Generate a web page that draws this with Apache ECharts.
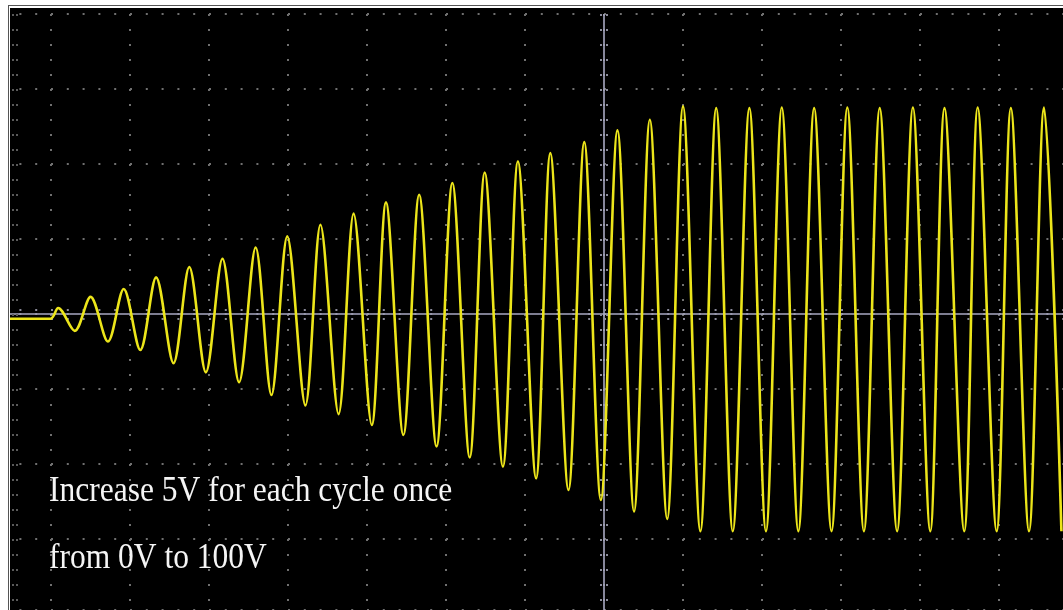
<!DOCTYPE html>
<html>
<head>
<meta charset="utf-8">
<script src="https://cdn.jsdelivr.net/npm/echarts@6/dist/echarts.min.js"></script>
<style>
html,body{margin:0;padding:0;background:#fff;}
#chart{width:1063px;height:610px;}
</style>
</head>
<body>
<div id="chart"></div>
<script>
// Time in screen divisions (0 = centre graticule line), voltage in volts.
const flatTimes = [-8, -7.01];
const flatVolts = [0, 0];
const peakTimes = [-6.91,-6.50,-6.08,-5.67,-5.25,-4.83,-4.41,-4.01,-3.59,-3.17,-2.76,-2.34,-1.92,-1.51,-1.09,-0.68,-0.25,0.17,0.58,1.00,1.42,1.84,2.25,2.66,3.08,3.49,3.91,4.31,4.73,5.15,5.57];
const peakVolts = [5.1,10.3,14.0,19.5,24.4,28.3,33.6,38.8,44.3,49.5,54.8,58.4,63.9,68.9,74.1,78.0,83.2,88.7,93.7,100,99.2,99.2,99.5,99.2,99.5,99.2,99.5,99.2,99.5,99.2,99.5];
const troughTimes = [-6.70,-6.28,-5.87,-5.45,-5.04,-4.62,-4.21,-3.78,-3.36,-2.94,-2.54,-2.12,-1.70,-1.28,-0.86,-0.45,-0.04,0.38,0.80,1.22,1.63,2.05,2.46,2.88,3.29,3.71,4.13,4.56,4.97,5.38,5.79];
const troughVolts = [-5.7,-10.7,-14.7,-20.9,-25.2,-29.9,-35.9,-40.8,-44.9,-50.0,-54.7,-60.1,-65.3,-69.6,-75.1,-80.6,-85.3,-90.7,-94.2,-100,-100,-100,-100,-100,-100,-100,-100,-100,-100,-100,-100];
const noteLines = ["Increase 5V for each cycle once", "from 0V to 100V"];
// visible screen window (divisions) and voltage window
const timeWindow = [-7.646, 5.810];
const divWindow = [-3.9467, 4];
const voltWindow = [-137.1, 143.5];

const pts = [];
flatTimes.forEach((t,i)=>pts.push([t, flatVolts[i]]));
peakTimes.forEach((t,i)=>pts.push([t, peakVolts[i]]));
troughTimes.forEach((t,i)=>pts.push([t, troughVolts[i]]));
pts.sort((a,b)=>a[0]-b[0]);

const chart = echarts.init(document.getElementById('chart'), null, {renderer:'canvas'});
const dotH = {color:'#707070', width:2, type:[2,13.8], dashOffset:12.2};
const dotV = {color:'#707070', width:2, type:[2,13]};
const tickV = {color:'#8a8a9a', width:2, type:[2,13], dashOffset:6};
const tickH = {color:'#8a8a9a', width:2, type:[2,13.8], dashOffset:12.2};
const edgeV = {color:'#5a5a5a', width:2, type:[2,13], dashOffset:6};
chart.setOption({
  animation:false,
  backgroundColor:'#000',
  grid:{left:0, right:0, top:14, bottom:0, containLabel:false},
  xAxis:[{type:'value', min:timeWindow[0], max:timeWindow[1], splitNumber:13, minInterval:1, maxInterval:1,
    axisLine:{show:false}, axisTick:{show:false}, axisLabel:{show:false},
    splitLine:{show:true, showMinLine:false, showMaxLine:false, lineStyle:dotV}}],
  yAxis:[
    {type:'value', min:divWindow[0], max:divWindow[1], splitNumber:8, minInterval:1, maxInterval:1,
     axisLine:{show:false}, axisTick:{show:false}, axisLabel:{show:false},
     splitLine:{show:true, showMinLine:true, showMaxLine:true, lineStyle:dotH}},
    {type:'value', min:voltWindow[0], max:voltWindow[1], show:false,
     axisLine:{show:false}, axisTick:{show:false}, axisLabel:{show:false}, splitLine:{show:false}}
  ],
  series:[
    {type:'line', xAxisIndex:0, yAxisIndex:0, data:[], silent:true,
     markLine:{silent:true, symbol:['none','none'], label:{show:false},
       data:[
         {xAxis:0, lineStyle:{color:'#a9a9c2', width:1.6, type:'solid'}},
         {yAxis:0, lineStyle:{color:'#a9a9c2', width:1.6, type:'solid'}},
         {xAxis:-0.045, lineStyle:tickV},
         {xAxis:0.045, lineStyle:tickV},
         {yAxis:-0.06, lineStyle:tickH},
         {yAxis:0.06, lineStyle:tickH},
         {xAxis:-7.494, lineStyle:edgeV},
         {xAxis:-7.43, lineStyle:edgeV}
       ]}},
    {type:'line', xAxisIndex:0, yAxisIndex:1, data:pts, smooth:0.32,
     showSymbol:false, symbol:'none', silent:true,
     lineStyle:{color:'#ece51a', width:2.6}, z:5}
  ],
  graphic:[
    {type:'rect', z:100, shape:{x:0,y:0,width:1063,height:8}, style:{fill:'#fff'}},
    {type:'rect', z:100, shape:{x:0,y:0,width:10,height:610}, style:{fill:'#fff'}},
    {type:'rect', z:101, shape:{x:8,y:5,width:1055,height:1}, style:{fill:'#555'}},
    {type:'rect', z:101, shape:{x:8,y:5,width:1,height:605}, style:{fill:'#555'}},
    {type:'text', z:110, x:49, y:491.5, scaleY:1.15,
     style:{text:noteLines[0], fill:'#f5f5f5', font:'31.5px "Liberation Serif"', textAlign:'left', textVerticalAlign:'middle', verticalAlign:'middle'}},
    {type:'text', z:110, x:49, y:558, scaleY:1.15,
     style:{text:noteLines[1], fill:'#f5f5f5', font:'31.5px "Liberation Serif"', textAlign:'left', textVerticalAlign:'middle', verticalAlign:'middle'}}
  ]
});
</script>
</body>
</html>
